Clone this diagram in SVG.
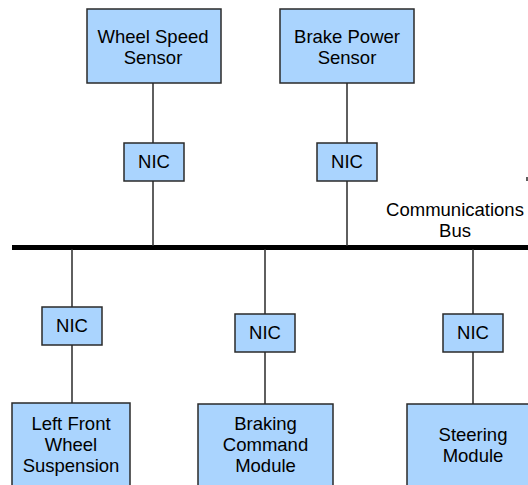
<svg xmlns="http://www.w3.org/2000/svg" width="528" height="485" viewBox="0 0 528 485">
  <style>
    .box { fill: #aad4fe; stroke: #2a2a2a; stroke-width: 1.5; }
    .wire { stroke: #2a2a2a; stroke-width: 1.5; fill: none; }
    .bus { stroke: #000; stroke-width: 5; }
    text { font-family: "Liberation Sans", Arial, sans-serif; font-size: 18.5px; fill: #000; text-anchor: middle; }
  </style>
  <rect width="528" height="485" fill="#fff"/>

  <!-- connectors -->
  <g id="connectors">
    <line class="bus" x1="12" y1="247.5" x2="528" y2="247.5"/>
    <line class="wire" x1="153" y1="83" x2="153" y2="143"/>
    <line class="wire" x1="153" y1="181" x2="153" y2="246"/>
    <line class="wire" x1="347" y1="83" x2="347" y2="143"/>
    <line class="wire" x1="347" y1="181" x2="347" y2="246"/>
    <line class="wire" x1="72" y1="249" x2="72" y2="307"/>
    <line class="wire" x1="72" y1="345" x2="72" y2="403"/>
    <line class="wire" x1="265" y1="249" x2="265" y2="314"/>
    <line class="wire" x1="265" y1="352" x2="265" y2="404"/>
    <line class="wire" x1="473" y1="249" x2="473" y2="314"/>
    <line class="wire" x1="473" y1="352" x2="473" y2="404"/>
    <line class="wire" x1="527" y1="177" x2="527" y2="181"/>
  </g>

  <g id="wheel-speed-sensor">
    <rect class="box" x="87" y="9" width="134" height="74"/>
    <text x="153" y="43">Wheel Speed</text>
    <text x="153" y="64">Sensor</text>
  </g>
  <g id="brake-power-sensor">
    <rect class="box" x="280" y="9" width="134" height="74"/>
    <text x="347" y="43">Brake Power</text>
    <text x="347" y="64">Sensor</text>
  </g>
  <g id="nic-wheel-speed">
    <rect class="box" x="124" y="143" width="60" height="38"/>
    <text x="154" y="168">NIC</text>
  </g>
  <g id="nic-brake-power">
    <rect class="box" x="317" y="143" width="60" height="38"/>
    <text x="347" y="168">NIC</text>
  </g>
  <g id="bus-label">
    <text x="455" y="216">Communications</text>
    <text x="455" y="237">Bus</text>
  </g>
  <g id="nic-left-front">
    <rect class="box" x="42" y="307" width="60" height="38"/>
    <text x="72" y="332">NIC</text>
  </g>
  <g id="nic-braking">
    <rect class="box" x="235" y="314" width="60" height="38"/>
    <text x="265" y="339">NIC</text>
  </g>
  <g id="nic-steering">
    <rect class="box" x="443" y="314" width="60" height="38"/>
    <text x="473" y="339">NIC</text>
  </g>
  <g id="left-front-wheel-suspension">
    <rect class="box" x="12" y="403" width="118" height="90"/>
    <text x="71" y="430">Left Front</text>
    <text x="71" y="451">Wheel</text>
    <text x="71" y="472">Suspension</text>
  </g>
  <g id="braking-command-module">
    <rect class="box" x="198" y="404" width="135" height="90"/>
    <text x="265.5" y="430">Braking</text>
    <text x="265.5" y="451">Command</text>
    <text x="265.5" y="472">Module</text>
  </g>
  <g id="steering-module">
    <rect class="box" x="407" y="404" width="132" height="90"/>
    <text x="473" y="441">Steering</text>
    <text x="473" y="462">Module</text>
  </g>
</svg>
